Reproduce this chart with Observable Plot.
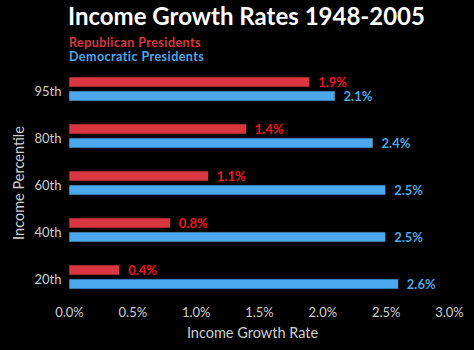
<!DOCTYPE html>
<html>
<head>
<meta charset="utf-8">
<script src="https://cdn.jsdelivr.net/npm/d3@7"></script>
<script src="https://cdn.jsdelivr.net/npm/@observablehq/plot@0.6"></script>
<style>
  html, body { margin: 0; padding: 0; background: #000; }
  body { width: 474px; height: 350px; position: relative; overflow: hidden; font-family: Lato, "Open Sans", sans-serif; }
  #title { position: absolute; left: 68px; top: 2px; font-size: 24px; font-weight: 700; color: #fff; line-height: 28px; white-space: nowrap; }
  .leg { position: absolute; left: 69px; font-size: 12.5px; font-weight: 700; line-height: 14px; letter-spacing: 0.45px; white-space: nowrap; }
  #chart { position: absolute; left: 0; top: 66px; }
</style>
</head>
<body>
<div id="title">Income Growth Rates 1948-2005</div>
<div class="leg" style="top:36px;color:#d9363f">Republican Presidents</div>
<div class="leg" style="top:50px;color:#4ba8e8">Democratic Presidents</div>
<div id="chart"></div>
<script>
const percentiles = ["95th", "80th", "60th", "40th", "20th"];
const parties = ["Republican Presidents", "Democratic Presidents"];
const republican = [1.9, 1.4, 1.1, 0.8, 0.4];
const democratic = [2.1, 2.4, 2.5, 2.5, 2.6];
const xTicks = [0, 0.5, 1.0, 1.5, 2.0, 2.5, 3.0];
const barColors = ["#d9363f", "#4ba8ec"];
const labelColors = ["#f0141e", "#4aa6e4"];

const rows = [];
percentiles.forEach((p, i) => {
  rows.push({percentile: p, party: parties[0], value: republican[i]});
  rows.push({percentile: p, party: parties[1], value: democratic[i]});
});

const plot = Plot.plot({
  width: 474,
  height: 284,
  marginTop: 10,
  marginBottom: 61,
  marginLeft: 69,
  marginRight: 25,
  style: {background: "#000", color: "#cfcfcf", fontFamily: "Lato, 'Open Sans', sans-serif", fontSize: "13px"},
  x: {domain: [0, 3], ticks: xTicks, tickFormat: d => d.toFixed(1) + "%", tickSize: 0, tickPadding: 18,
      label: "Income Growth Rate", labelArrow: "none", labelAnchor: "center", labelOffset: 48},
  fy: {domain: percentiles, paddingInner: 0.47, paddingOuter: 0, axis: "left", tickSize: 0, tickPadding: 8,
       label: "Income Percentile", labelAnchor: "center", labelOffset: 56},
  y: {domain: parties, paddingInner: 0.3, paddingOuter: 0, axis: null},
  color: {domain: parties, range: barColors},
  marks: [
    Plot.barX(rows, {x: "value", y: "party", fy: "percentile", fill: "party", stroke: "#111", strokeWidth: 0.6}),
    Plot.text(rows, {x: "value", y: "party", fy: "percentile", text: d => d.value.toFixed(1) + "%",
      dx: 8, textAnchor: "start", fontWeight: "bold", fontSize: 13,
      fill: d => labelColors[parties.indexOf(d.party)]})
  ]
});
const svg = d3.select(plot);
function shift(sel, dx, dy) {
  sel.each(function () {
    const t = this.getAttribute("transform") || "";
    this.setAttribute("transform", `translate(${dx},${dy}) ${t}`);
  });
}
const xl = svg.select('g[aria-label="x-axis label"]').attr("font-size", 14.5);
shift(xl, -7, 0);
svg.select('g[aria-label="fy-axis label"]').attr("font-size", 14.5);
shift(svg.select('g[aria-label="fy-axis tick label"]'), 0, 3);
document.getElementById("chart").appendChild(plot);
</script>
</body>
</html>
